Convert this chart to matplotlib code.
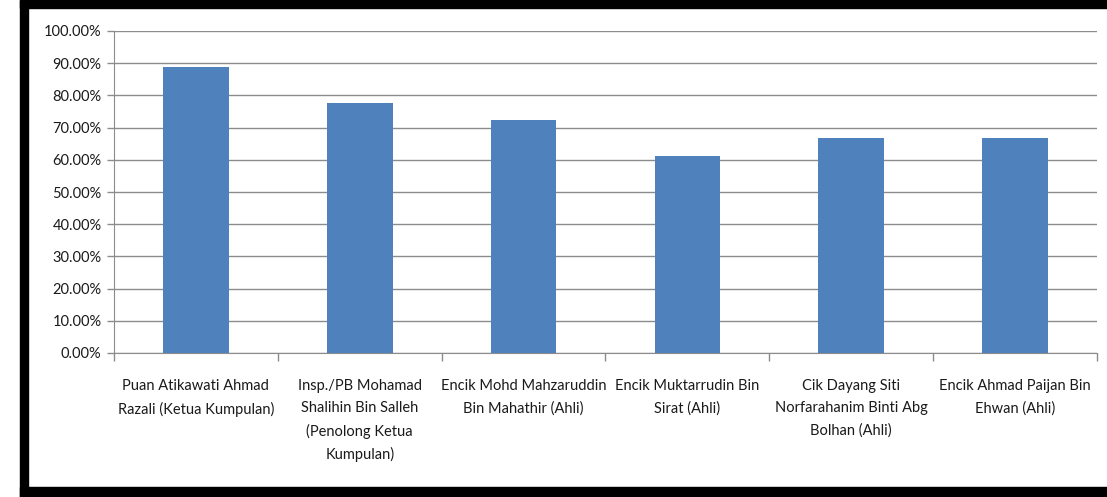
import matplotlib
matplotlib.use('Agg')
import matplotlib.pyplot as plt
from matplotlib.patches import Rectangle
from matplotlib.ticker import FuncFormatter, MultipleLocator
import numpy as np

plt.rcParams['font.family'] = ['Lato', 'DejaVu Sans']

names = [
    "Puan Atikawati Ahmad\nRazali (Ketua Kumpulan)",
    "Insp./PB Mohamad\nShalihin Bin Salleh\n(Penolong Ketua\nKumpulan)",
    "Encik Mohd Mahzaruddin\nBin Mahathir (Ahli)",
    "Encik Muktarrudin Bin\nSirat (Ahli)",
    "Cik Dayang Siti\nNorfarahanim Binti Abg\nBolhan (Ahli)",
    "Encik Ahmad Paijan Bin\nEhwan (Ahli)",
]
scores = [0.8889, 0.7778, 0.7222, 0.6111, 0.6667, 0.6667]

W, H = 1107, 497
fig = plt.figure(figsize=(W / 100, H / 100), dpi=100)
ax = fig.add_axes([114 / W, 1 - 353 / H, (1097 - 114) / W, (353 - 31) / H])

x = np.arange(len(names))
ax.bar(x, scores, width=0.4, color='#4F81BD', zorder=3)

ax.set_xlim(-0.5, len(names) - 0.5)
ax.set_ylim(0, 1.0)
ax.yaxis.set_major_locator(MultipleLocator(0.1))
ax.yaxis.set_major_formatter(FuncFormatter(lambda v, p: f"{v * 100:.2f}%"))
ax.grid(axis='y', color='#8C8C8C', linewidth=1.0, zorder=0)

# category labels centred, ticks on the boundaries
ax.set_xticks(x)
ax.set_xticklabels(names, fontsize=10.5, linespacing=1.7, va='top', color='#1a1a1a')
ax.tick_params(axis='x', length=0, pad=19)
ax.set_xticks(np.arange(len(names) + 1) - 0.5, minor=True)
ax.tick_params(axis='x', which='minor', length=6, color='#8C8C8C', width=1)
ax.tick_params(axis='y', length=5, color='#8C8C8C', width=1, labelsize=10.5, pad=4,
               labelcolor='#1a1a1a')

for side in ['top', 'right']:
    ax.spines[side].set_visible(False)
ax.spines['left'].set_color('#8C8C8C')
ax.spines['bottom'].set_color('#8C8C8C')

# black frame of the pasted chart
for (x0, y0, w, h) in [(20, 0, W - 20, 8), (20, 0, 8, H), (20, 487, W - 20, 10)]:
    fig.add_artist(Rectangle((x0 / W, 1 - (y0 + h) / H), w / W, h / H,
                             transform=fig.transFigure, color='black', zorder=10))

plt.savefig('out.png', dpi=100)
